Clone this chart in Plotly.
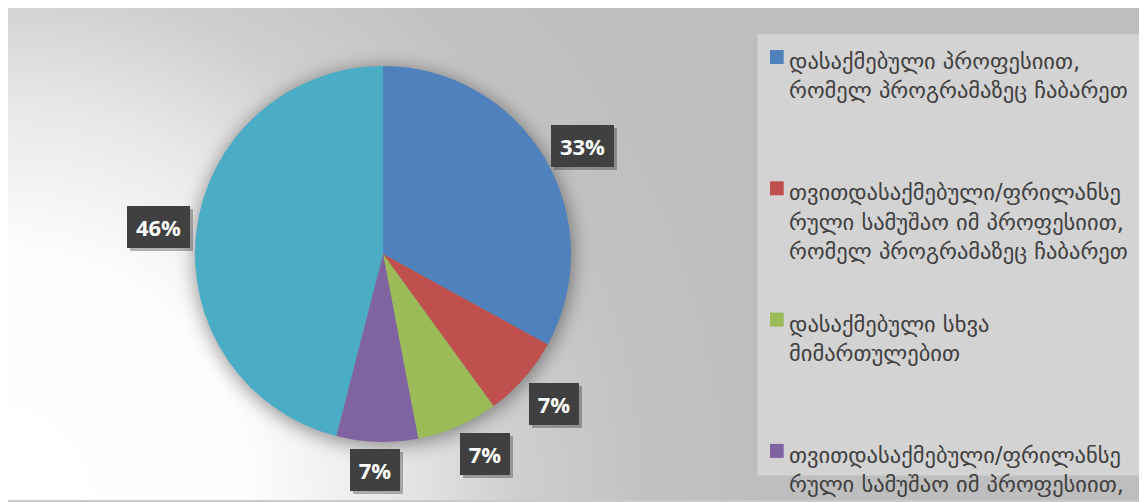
import base64
import math
import plotly.graph_objects as go

# ---------------- data ----------------
categories = [
    "დასაქმებული პროფესიით, რომელ პროგრამაზეც ჩაბარეთ",
    "თვითდასაქმებული/ფრილანსერული სამუშაო იმ პროფესიით, რომელ პროგრამაზეც ჩაბარეთ",
    "დასაქმებული სხვა მიმართულებით",
    "თვითდასაქმებული/ფრილანსერული სამუშაო სხვა მიმართულებით",
    "უმუშევარი",
]
legend_lines = [
    ["დასაქმებული პროფესიით,", "რომელ პროგრამაზეც ჩაბარეთ"],
    ["თვითდასაქმებული/ფრილანსე", "რული სამუშაო იმ პროფესიით,", "რომელ პროგრამაზეც ჩაბარეთ"],
    ["დასაქმებული სხვა", "მიმართულებით"],
    ["თვითდასაქმებული/ფრილანსე", "რული სამუშაო იმ პროფესიით,", "რომელ პროგრამაზეც ჩაბარეთ"],
    ["უმუშევარი"],
]
values = [33, 7, 7, 7, 46]
pct_labels = ["33%", "7%", "7%", "7%", "46%"]
colors = ["#4F81BD", "#C0504D", "#9BBB59", "#8064A2", "#4BACC6"]

# ---------------- layout constants ----------------
W, H = 1147, 502
OFF = 8  # page body margin: figure origin sits at (8, 8) in the window
CX, CY, R = 383 - OFF, 254 - OFF, 188


def px(x):
    return x / W


def py(y):
    return 1 - y / H


def clamp(v):
    return max(-1.0, min(1.0, v))


# background: radial gradient + pie shadow, as an inline svg image
svg = f"""<svg xmlns="http://www.w3.org/2000/svg" width="{W}" height="{H}" viewBox="0 0 {W} {H}" preserveAspectRatio="none">
<defs>
<radialGradient id="g" gradientUnits="userSpaceOnUse" cx="-10" cy="{H - 8}" r="760">
<stop offset="0" stop-color="#FFFFFF"/>
<stop offset="0.33" stop-color="#FDFDFD"/>
<stop offset="0.52" stop-color="#E8E8E8"/>
<stop offset="0.68" stop-color="#CFCFCF"/>
<stop offset="0.85" stop-color="#C2C2C2"/>
<stop offset="1" stop-color="#BEBEBE"/>
</radialGradient>
<filter id="b" x="-30%" y="-30%" width="160%" height="160%"><feGaussianBlur stdDeviation="9"/></filter>
</defs>
<rect x="-2" y="-3" width="{W + 4}" height="{H - 6}" fill="url(#g)"/>
<circle cx="{CX + 1}" cy="{CY + 3}" r="{R + 2}" fill="#000" fill-opacity="0.38" filter="url(#b)"/>
</svg>"""
svg_uri = "data:image/svg+xml;base64," + base64.b64encode(svg.encode("utf-8")).decode("ascii")

fig = go.Figure()
fig.add_trace(
    go.Pie(
        labels=categories,
        values=values,
        marker=dict(colors=colors, line=dict(width=0)),
        sort=False,
        direction="clockwise",
        rotation=0,
        textinfo="none",
        hoverinfo="label+percent",
        showlegend=False,
        domain=dict(x=[px(CX - R), px(CX + R)], y=[py(CY + R), py(CY - R)]),
    )
)

annotations = []
shapes = []

# data labels in dark boxes, placed just outside each slice (outside-end style)
total = sum(values)
cum = 0.0
GAP = 7
BOX_H = 42
for v, lab in zip(values, pct_labels):
    mid = (cum + v / 2) / total * 2 * math.pi
    cum += v
    ux, uy = math.sin(mid), -math.cos(mid)
    hw = 6.5 * len(lab) + 12
    ax_, ay_ = CX + ux * (R + GAP), CY + uy * (R + GAP)
    sx = clamp(2.5 * ux)
    sy = clamp(1.6 * uy) if uy > 0 else 0.85 * uy
    bx, by = ax_ + hw * sx, ay_ + BOX_H / 2 * sy
    common = dict(
        x=px(bx), y=py(by), xref="paper", yref="paper",
        text=f"<b>{lab}</b>", showarrow=False,
        width=2 * hw, height=BOX_H, borderpad=0, borderwidth=0,
        xanchor="center", yanchor="middle", align="center", valign="middle",
    )
    annotations.append(dict(common, xshift=3, yshift=-3, bgcolor="rgba(0,0,0,0.28)",
                            font=dict(family="Open Sans", size=22, color="rgba(0,0,0,0)")))
    annotations.append(dict(common, bgcolor="#404040",
                            font=dict(family="Open Sans", size=22, color="#FFFFFF")))

# legend panel
shapes.append(dict(type="rect", xref="paper", yref="paper",
                   x0=px(757.5 - OFF), x1=px(1143 - OFF), y0=py(475.5 - OFF), y1=py(34 - OFF),
                   fillcolor="#D3D3D3", line=dict(width=0), layer="below"))
LINE_H = 29.3
ITEM_STEP = 131.3
FIRST = 61 - OFF
for i, (lines, col) in enumerate(zip(legend_lines, colors)):
    top = FIRST + i * ITEM_STEP
    shapes.append(dict(type="rect", xref="paper", yref="paper",
                       x0=px(770 - OFF), x1=px(783.7 - OFF), y0=py(top + 3), y1=py(top - 11),
                       fillcolor=col, line=dict(width=0)))
    for j, ln in enumerate(lines):
        annotations.append(dict(
            x=px(787 - OFF), y=py(top + j * LINE_H), xref="paper", yref="paper",
            text=ln, showarrow=False, xanchor="left", yanchor="middle",
            font=dict(family="DejaVu Sans", size=22.5, color="#404040"),
        ))

# chart border (left/top edges fall into the page margin; bottom edge visible)
shapes.append(dict(type="rect", xref="paper", yref="paper",
                   x0=px(6 - OFF), x1=px(W + 5), y0=py(501 - OFF), y1=py(5 - OFF),
                   fillcolor="rgba(0,0,0,0)", line=dict(color="#CACACA", width=2)))

fig.update_layout(
    width=W, height=H,
    margin=dict(l=0, r=0, t=0, b=0),
    paper_bgcolor="#FFFFFF", plot_bgcolor="rgba(0,0,0,0)",
    images=[dict(source=svg_uri, xref="paper", yref="paper", x=0, y=1,
                 sizex=1, sizey=1, xanchor="left", yanchor="top",
                 sizing="stretch", layer="below")],
    annotations=annotations,
    shapes=shapes,
    showlegend=False,
)

fig.write_html("out.html")
